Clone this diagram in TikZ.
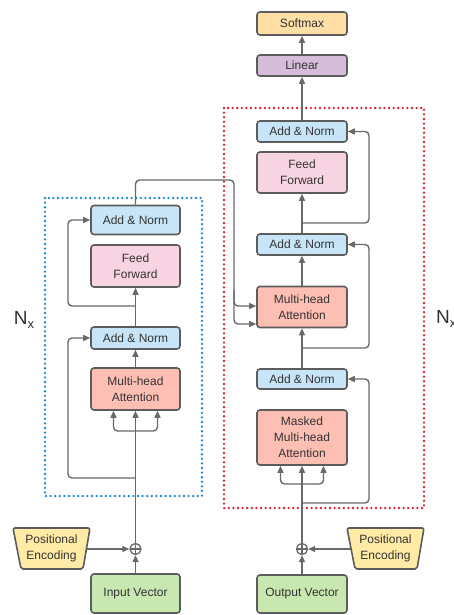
\documentclass[tikz,border=0pt]{standalone}
\usepackage{fontspec}
\setmainfont{Liberation Sans}
\usetikzlibrary{arrows.meta}
\definecolor{anfill}{HTML}{C7E5F7}
\definecolor{fffill}{HTML}{F8D4E3}
\definecolor{mhafill}{HTML}{FDBEB4}
\definecolor{smfill}{HTML}{FFDFA6}
\definecolor{linfill}{HTML}{D6BDD9}
\definecolor{vecfill}{HTML}{C8E7B1}
\definecolor{pefill}{HTML}{FFEAA6}
\definecolor{bordc}{HTML}{5C5C5C}
\definecolor{linec}{HTML}{696969}
\definecolor{textc}{HTML}{333333}
\definecolor{encc}{HTML}{1A88D0}
\definecolor{decc}{HTML}{D42232}
\tikzset{
  blk/.style={draw=bordc, line width=1.6pt, rounded corners=3pt, minimum width=89pt,
    inner sep=0pt, align=center, text=textc, font=\fontsize{12}{16}\selectfont},
  anbox/.style={blk, fill=anfill},
  ffbox/.style={blk, fill=fffill},
  mhabox/.style={blk, fill=mhafill},
  smbox/.style={blk, fill=smfill},
  linbox/.style={blk, fill=linfill},
  vecbox/.style={blk, fill=vecfill},
  pebox/.style={draw=bordc, line width=1.6pt, rounded corners=2pt, fill=pefill},
  petext/.style={align=center, text=textc, font=\fontsize{12}{16}\selectfont, inner sep=0pt},
  arr/.style={draw=linec, line width=1.4pt, -{Triangle[length=7pt,width=6pt]}, rounded corners=4pt},
  conn/.style={draw=linec, line width=1.4pt, rounded corners=4pt},
  plusnode/.style={circle, draw=linec, line width=1.3pt, minimum size=11pt, inner sep=0pt,
    path picture={\draw[linec, line width=1.1pt] (path picture bounding box.north) -- (path picture bounding box.south)
      (path picture bounding box.west) -- (path picture bounding box.east);}},
  dotbox/.style={line width=2.6pt, dash pattern=on 0pt off 4.6pt, line cap=round},
  nxlabel/.style={text=textc, inner sep=0pt}
}
\begin{document}
\begin{tikzpicture}[x=1pt,y=-1pt]
\useasboundingbox (0,0) rectangle (454,615);
\fill[white] (0,0) rectangle (454,615);

% dotted frames
\draw[dotbox, encc] (45,198) rectangle (202,496);
\draw[dotbox, decc] (224,108) rectangle (424,508);

% ---------- Encoder ----------
\node[anbox, minimum height=29pt] (lan2) at (135.5,220) {Add \& Norm};
\node[ffbox, minimum height=42pt] (lff) at (135.5,266) {Feed\\Forward};
\node[anbox, minimum height=22pt] (lan1) at (135.5,338) {Add \& Norm};
\node[mhabox, minimum height=42pt] (lmha) at (135.5,389) {Multi-head\\Attention};
\node[vecbox, minimum height=39pt] (lin) at (135.5,593.5) {Input Vector};
\node[plusnode] (lplus) at (135.5,549) {};

\draw[pebox] (13,528) -- (90,528) -- (83,569) -- (21,569) -- cycle;
\node[petext] (lpe) at (51.5,548.5) {Positional\\Encoding};
\coordinate (lpeE) at (86.5,549);

\coordinate (lfork) at (135.5,431);
\coordinate (lres1) at (135.5,478);
\coordinate (lres2) at (135.5,306);

\draw[arr] (lin) -- (lplus);
\draw[arr] (lpeE) -- (lplus);
\draw[arr] (lplus) -- (lmha);
\draw[arr] (lfork) -| ([xshift=-22pt]lmha.south);
\draw[arr] (lfork) -| ([xshift=22pt]lmha.south);
\draw[arr] (lres1) -- ++(-67.5,0) |- (lan1.west);
\draw[arr] (lmha) -- (lan1);
\draw[arr] (lan1) -- (lff);
\draw[arr] (lres2) -- ++(-67.5,0) |- (lan2.west);

\node[nxlabel, anchor=center] (nxl) at (24,320) {\fontsize{19}{20}\selectfont N\raisebox{-0.35ex}{\fontsize{13}{13}\selectfont x}};

% ---------- Decoder ----------
\node[smbox, minimum height=23pt, minimum width=90pt] (soft) at (302,23.5) {Softmax};
\node[linbox, minimum height=21pt, minimum width=90pt] (linr) at (302,65.5) {Linear};
\node[anbox, minimum height=21pt, minimum width=90pt] (ran3) at (302,131.5) {Add \& Norm};
\node[ffbox, minimum height=41pt, minimum width=90pt] (rff) at (302,172.5) {Feed\\Forward};
\node[anbox, minimum height=21pt, minimum width=90pt] (ran2) at (302,244.5) {Add \& Norm};
\node[mhabox, minimum height=41pt, minimum width=90pt] (rmha) at (302,307) {Multi-head\\Attention};
\node[anbox, minimum height=20pt, minimum width=90pt] (ran1) at (302,379) {Add \& Norm};
\node[mhabox, minimum height=55pt, minimum width=90pt] (rmm) at (302,437.5) {Masked\\Multi-head\\Attention};
\node[vecbox, minimum height=38pt, minimum width=90pt] (rout) at (302,594) {Output Vector};
\node[plusnode] (rplus) at (302,549) {};

\draw[pebox] (347,528) -- (424,528) -- (417,569) -- (355,569) -- cycle;
\node[petext] (rpe) at (385.5,548.5) {Positional\\Encoding};
\coordinate (rpeW) at (351,549);

\coordinate (rfork) at (302,484);
\coordinate (rres1) at (302,503);
\coordinate (rres2) at (302,348);
\coordinate (rres3) at (302,223);

\draw[arr] (rout) -- (rplus);
\draw[arr] (rpeW) -- (rplus);
\draw[arr] (rplus) -- (rmm);
\draw[arr] (rfork) -| ([xshift=-21.5pt]rmm.south);
\draw[arr] (rfork) -| ([xshift=21.5pt]rmm.south);
\draw[arr] (rres1) -- ++(67,0) |- (ran1.east);
\draw[arr] (ran1) -- (rmha);
\draw[arr] (rmha) -- (ran2);
\draw[arr] (rres2) -- ++(67,0) |- (ran2.east);
\draw[arr] (ran2) -- (rff);
\draw[arr] (rres3) -- ++(67,0) |- (ran3.east);
\draw[arr] (ran3) -- (linr);
\draw[arr] (linr) -- (soft);

% encoder output to decoder cross attention
\coordinate (cross) at (234,180);
\coordinate (crossb) at (234,290);
\draw[arr] (lan2.north) |- (cross) |- ([yshift=1pt]rmha.west);
\draw[arr] (crossb) |- ([yshift=-17pt]rmha.west);

\node[nxlabel, anchor=west] (nxr) at (436,319) {\fontsize{19}{20}\selectfont N\raisebox{-0.35ex}{\fontsize{13}{13}\selectfont x}};
\end{tikzpicture}
\end{document}
